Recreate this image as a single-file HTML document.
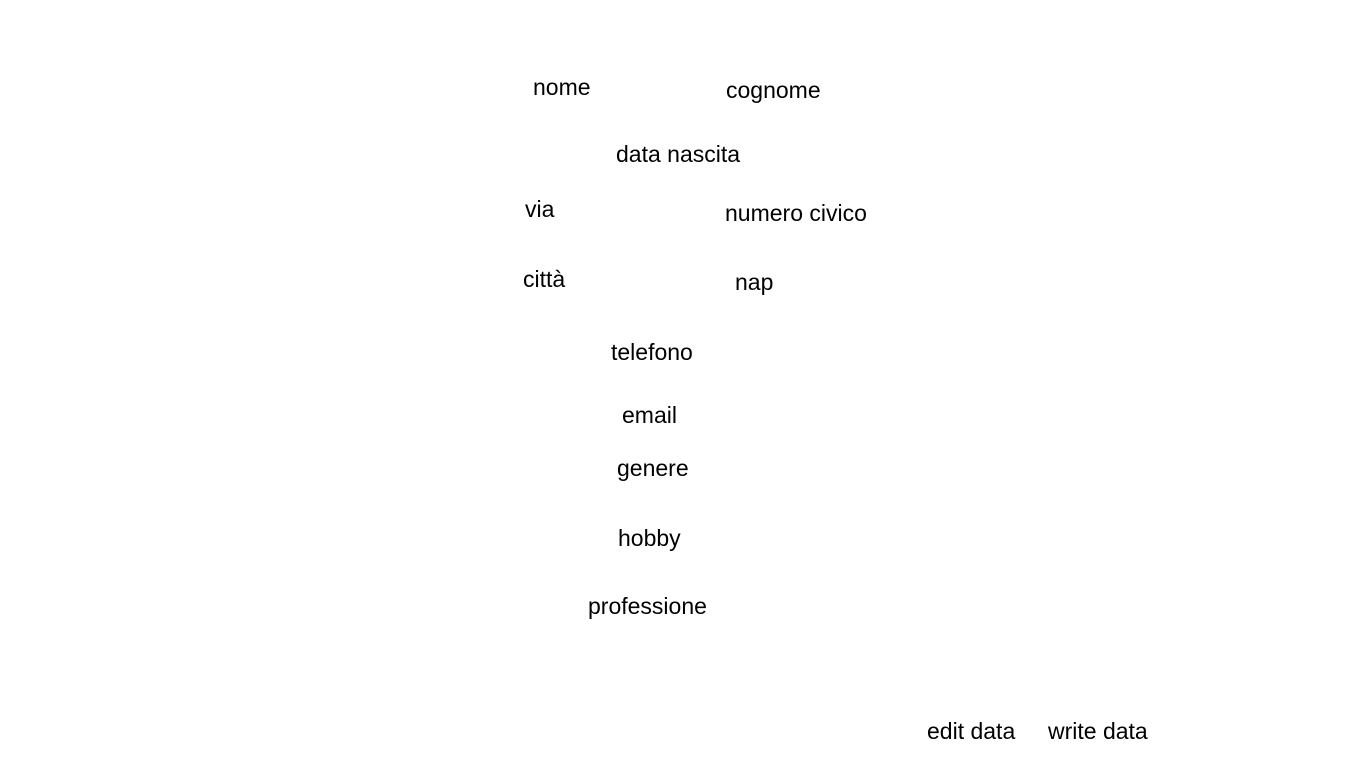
<!DOCTYPE html>
<html>
<head>
<meta charset="utf-8">
<style>
  html, body { margin:0; padding:0; background:#fff; width:1366px; height:768px; overflow:hidden; }
  .lbl { position:absolute; font-family:"Liberation Sans", sans-serif; font-size:23px; line-height:22px; color:#000; white-space:nowrap; }
</style>
</head>
<body>
<div class="lbl" style="left:533px;top:76px">nome</div>
<div class="lbl" style="left:726px;top:79px">cognome</div>
<div class="lbl" style="left:616px;top:143px">data nascita</div>
<div class="lbl" style="left:525px;top:198px">via</div>
<div class="lbl" style="left:725px;top:202px">numero civico</div>
<div class="lbl" style="left:523px;top:268px">città</div>
<div class="lbl" style="left:735px;top:271px">nap</div>
<div class="lbl" style="left:611px;top:341px">telefono</div>
<div class="lbl" style="left:622px;top:404px">email</div>
<div class="lbl" style="left:617px;top:457px">genere</div>
<div class="lbl" style="left:618px;top:527px">hobby</div>
<div class="lbl" style="left:588px;top:595px">professione</div>
<div class="lbl" style="left:927px;top:720px">edit data</div>
<div class="lbl" style="left:1048px;top:720px">write data</div>
</body>
</html>
